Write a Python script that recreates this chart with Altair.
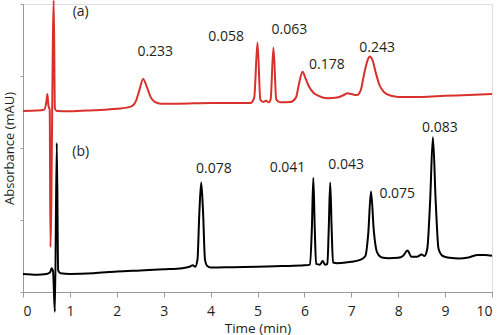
import altair as alt
import pandas as pd

# Trace (a) – red chromatogram
red_t = [0.0, 0.3, 0.45, 0.5, 0.52, 0.54, 0.57, 0.585, 0.655, 0.68, 0.72,
         1.0, 1.5, 2.0, 2.3, 2.4, 2.48, 2.56, 2.64, 2.72, 2.8, 2.95, 3.3, 4.0, 4.6,
         4.85, 4.93, 5.0, 5.06, 5.12, 5.18, 5.24, 5.28, 5.34, 5.4, 5.48, 5.7,
         5.82, 5.88, 5.96, 6.02, 6.1, 6.2, 6.3, 6.5, 6.7, 6.85, 6.92, 7.0, 7.12,
         7.2, 7.28, 7.35, 7.39, 7.45, 7.52, 7.6, 7.7, 7.85, 8.0, 8.5, 9.0, 9.5, 10.0]
red_v = [5.03, 5.04, 5.06, 5.3, 5.5, 5.2, 5.05, 1.25, 8.1, 5.1, 5.03,
         5.02, 5.05, 5.09, 5.15, 5.28, 5.6, 5.92, 5.7, 5.42, 5.29, 5.23, 5.23, 5.25, 5.25,
         5.25, 5.4, 6.93, 5.35, 5.28, 5.31, 5.27, 5.35, 6.79, 5.35, 5.27, 5.28,
         5.4, 5.75, 6.12, 5.95, 5.7, 5.53, 5.45, 5.38, 5.4, 5.48, 5.52, 5.5, 5.47,
         5.6, 6.1, 6.45, 6.54, 6.45, 6.1, 5.75, 5.55, 5.45, 5.42, 5.42, 5.45, 5.47, 5.5]

# Trace (b) – black chromatogram
black_t = [0.0, 0.3, 0.5, 0.58, 0.61, 0.64, 0.68, 0.72, 0.75, 0.8, 1.0, 1.5, 2.0,
           2.5, 3.0, 3.4, 3.55, 3.62, 3.67, 3.72, 3.76, 3.8, 3.84, 3.88, 3.93, 4.0,
           4.5, 5.0, 5.5, 6.0, 6.12, 6.16, 6.19, 6.22, 6.25, 6.33, 6.39, 6.44, 6.49,
           6.52, 6.55, 6.58, 6.61, 6.7, 7.0, 7.2, 7.3, 7.36, 7.42, 7.48, 7.55, 7.65,
           7.8, 8.0, 8.1, 8.2, 8.28, 8.4, 8.5, 8.56, 8.62, 8.68, 8.74, 8.8, 8.86,
           8.95, 9.1, 9.3, 9.5, 9.7, 9.85, 10.0]
black_v = [0.5, 0.48, 0.5, 0.55, 0.66, 0.58, -0.55, 4.14, 0.6, 0.52, 0.5, 0.52, 0.57,
           0.6, 0.63, 0.66, 0.7, 0.74, 0.7, 0.9, 2.2, 3.04, 2.2, 0.9, 0.72, 0.68,
           0.69, 0.7, 0.72, 0.74, 0.76, 1.8, 3.17, 1.8, 0.78, 0.76, 0.86, 0.76, 0.78,
           1.8, 3.04, 1.8, 0.82, 0.8, 0.84, 0.9, 1.0, 1.6, 2.79, 1.7, 1.1, 0.96,
           0.94, 0.95, 1.0, 1.15, 0.98, 0.98, 1.04, 1.0, 1.2, 2.5, 4.3, 2.5, 1.2,
           1.0, 0.95, 0.93, 0.96, 1.03, 1.03, 1.01]

# Annotations
label_text = ["(a)", "0.233", "0.058", "0.063", "0.178", "0.243",
              "(b)", "0.078", "0.041", "0.043", "0.075", "0.083"]
label_t = [1.23, 2.82, 4.33, 5.68, 6.48, 7.55, 1.23, 4.07, 5.64, 6.89, 7.98, 8.89]
label_v = [7.79, 6.68, 7.08, 7.28, 6.31, 6.78, 3.89, 3.42, 3.44, 3.53, 2.72, 4.56]

x_ticks = list(range(0, 11))
y_ticks = list(range(0, 9))

RED = "#d8312c"
FONT = "Open Sans"

red_df = pd.DataFrame({"t": red_t, "v": red_v, "i": range(len(red_t))})
black_df = pd.DataFrame({"t": black_t, "v": black_v, "i": range(len(black_t))})
lab_df = pd.DataFrame({"t": label_t, "v": label_v, "txt": label_text})

xscale = alt.Scale(domain=[0, 10], nice=False, zero=False)
yscale = alt.Scale(domain=[0, 8], nice=False, zero=False)

xaxis = alt.Axis(values=x_ticks, title="Time (min)", grid=False,
                 domainColor="#9a9a9a", tickColor="#9a9a9a", tickSize=5,
                 labelFontSize=14, labelColor="#231f20", labelPadding=7,
                 titleFontSize=13.5, titleFontWeight="normal", titleColor="#231f20",
                 titlePadding=3, labelFont=FONT, titleFont=FONT)
yaxis = alt.Axis(values=y_ticks, title="Absorbance (mAU)", grid=False, labels=False,
                 domainColor="#9a9a9a", tickColor="#9a9a9a", tickSize=3,
                 titleFontSize=13, titleFontWeight="normal", titleColor="#231f20",
                 titlePadding=3, titleFont=FONT)

red_line = alt.Chart(red_df).mark_line(color=RED, strokeWidth=2, interpolate="monotone").encode(
    x=alt.X("t:Q", scale=xscale, axis=xaxis),
    y=alt.Y("v:Q", scale=yscale, axis=yaxis),
    order="i:Q",
)
black_line = alt.Chart(black_df).mark_line(color="#000000", strokeWidth=2, interpolate="monotone").encode(
    x=alt.X("t:Q", scale=xscale),
    y=alt.Y("v:Q", scale=yscale),
    order="i:Q",
)
labels = alt.Chart(lab_df).mark_text(fontSize=14, font=FONT, color="#231f20",
                                     baseline="middle", align="center").encode(
    x=alt.X("t:Q", scale=xscale),
    y=alt.Y("v:Q", scale=yscale),
    text="txt:N",
)

chart = alt.layer(red_line, black_line, labels).properties(
    width=469, height=288,
    autosize=alt.AutoSizeParams(type="none"),
    padding={"left": 23, "top": 4, "right": 8, "bottom": 43},
).configure_view(stroke=None).configure(background="white")

chart.save("out.html", embed_options={"renderer": "svg", "actions": False})
